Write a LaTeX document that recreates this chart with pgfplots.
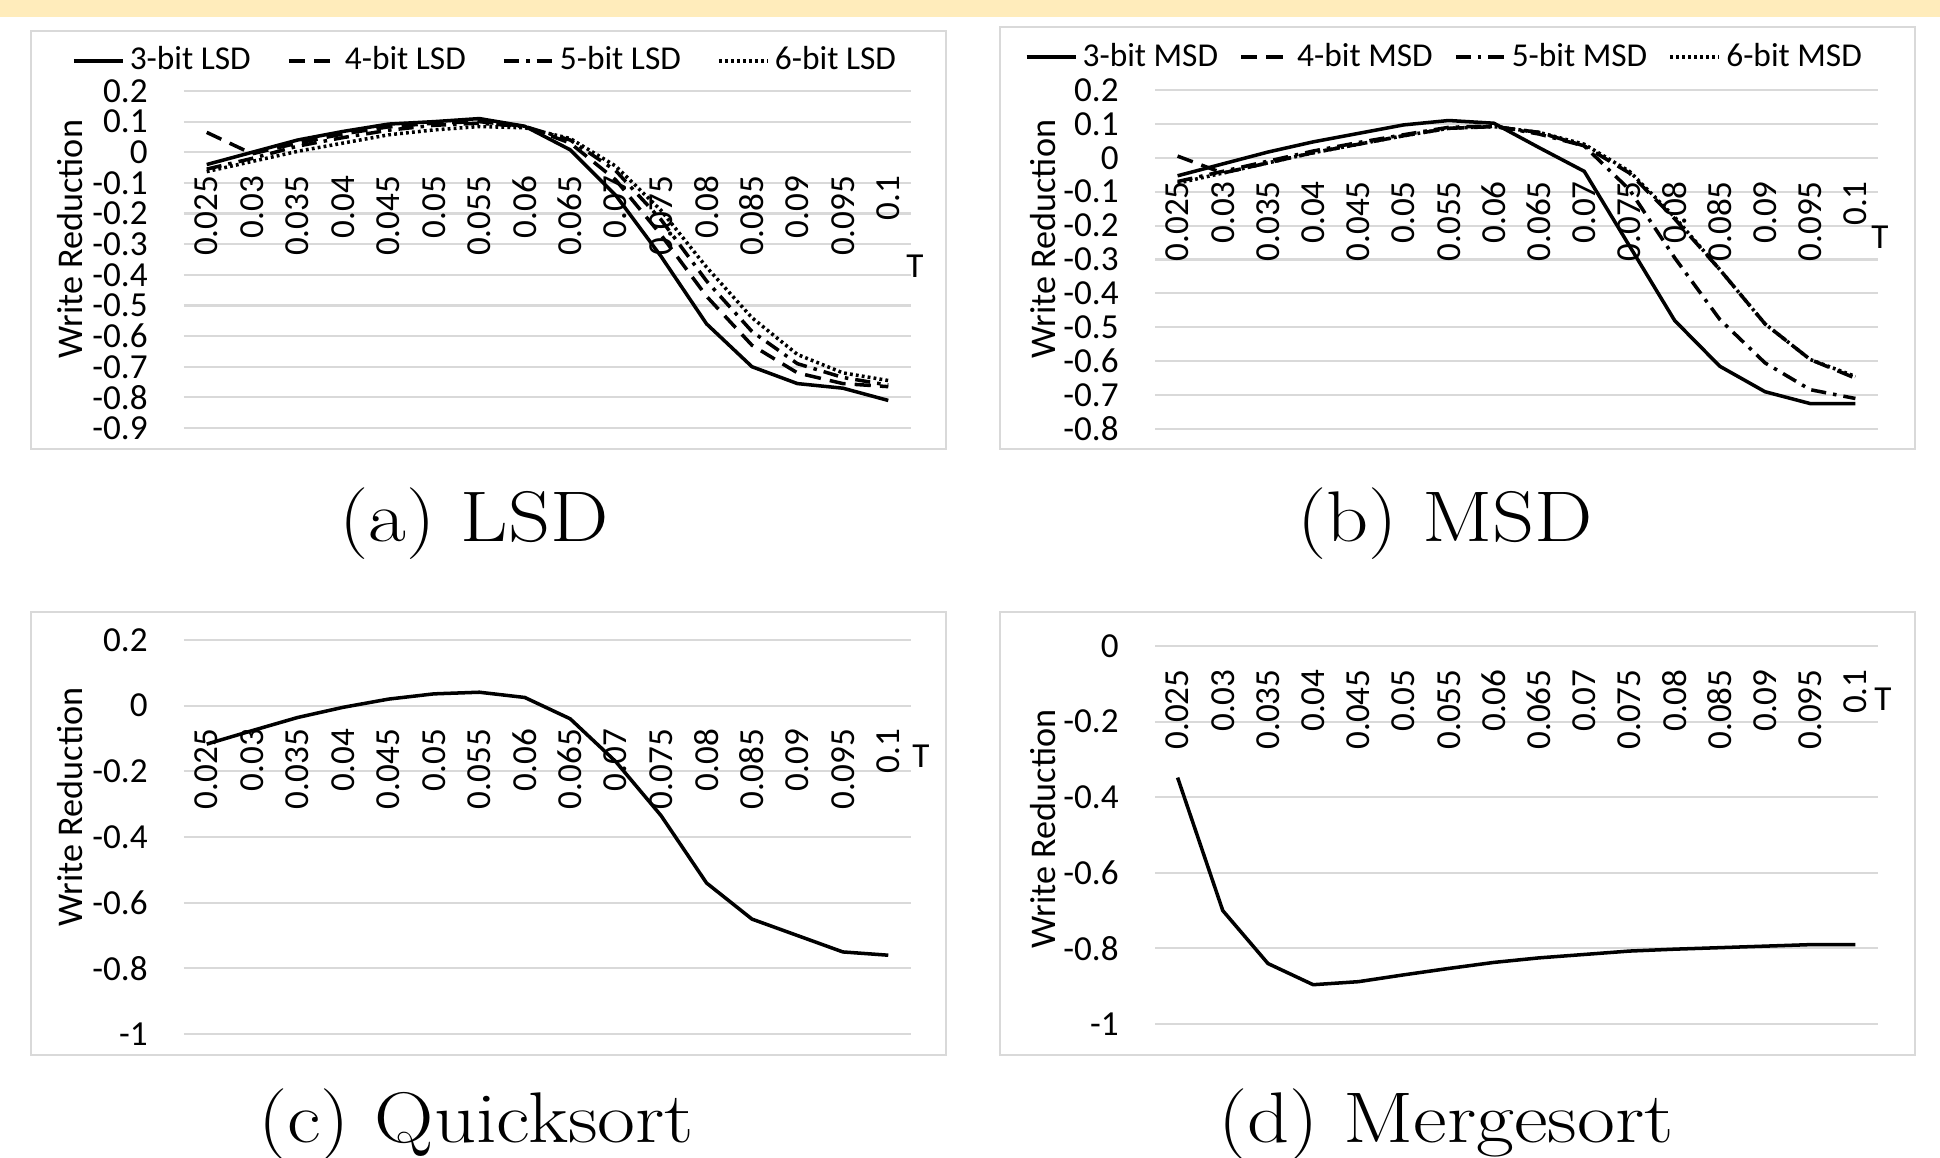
\documentclass[border=0pt]{standalone}
\usepackage{fontspec}
\usepackage{graphicx}
\usepackage{pgfplots}
\usepackage{pgfplotstable}
\pgfplotsset{compat=1.18}
\newfontfamily\calibri{Carlito}
\definecolor{band}{HTML}{FFECBB}
\definecolor{gridgray}{HTML}{D9D9D9}
\definecolor{framegray}{HTML}{D9D9D9}

% one row per threshold T (0.025 ... 0.1), i = category index
\pgfplotstableread{
i  b3      b4      b5      b6
0  -0.040  0.065   -0.055  -0.063
1  0.000   -0.005  -0.020  -0.030
2  0.040   0.030   0.020   0.003
3  0.068   0.060   0.048   0.030
4  0.092   0.083   0.072   0.057
5  0.100   0.095   0.088   0.073
6  0.110   0.100   0.095   0.084
7  0.085   0.085   0.084   0.080
8  0.008   0.030   0.040   0.045
9  -0.140  -0.090  -0.060  -0.045
10 -0.340  -0.270  -0.220  -0.190
11 -0.560  -0.470  -0.420  -0.375
12 -0.700  -0.630  -0.585  -0.540
13 -0.755  -0.720  -0.690  -0.660
14 -0.770  -0.755  -0.735  -0.720
15 -0.810  -0.765  -0.760  -0.745
}\lsd

\pgfplotstableread{
i  b3      b4      b5      b6
0  -0.053  0.005   -0.070  -0.075
1  -0.018  -0.045  -0.040  -0.045
2  0.017   -0.015  -0.010  -0.015
3  0.047   0.015   0.020   0.015
4  0.072   0.040   0.045   0.040
5  0.097   0.065   0.068   0.065
6  0.110   0.087   0.090   0.087
7  0.102   0.092   0.094   0.092
8  0.030   0.075   0.070   0.075
9  -0.040  0.035   0.035   0.040
10 -0.260  -0.045  -0.094  -0.040
11 -0.480  -0.180  -0.295  -0.175
12 -0.615  -0.330  -0.477  -0.330
13 -0.690  -0.490  -0.605  -0.490
14 -0.725  -0.595  -0.684  -0.595
15 -0.725  -0.650  -0.710  -0.645
}\msd

\pgfplotstableread{
i  quick   merge
0  -0.117  -0.348
1  -0.076  -0.700
2  -0.036  -0.840
3  -0.005  -0.896
4  0.020   -0.888
5  0.036   -0.870
6  0.041   -0.853
7  0.025   -0.837
8  -0.040  -0.825
9  -0.170  -0.816
10 -0.335  -0.807
11 -0.540  -0.802
12 -0.650  -0.798
13 -0.700  -0.794
14 -0.750  -0.790
15 -0.760  -0.790
}\sorts

\pgfplotsset{
  panel/.style={
    scale only axis,
    xmin=-0.5, xmax=15.5,
    xtick={0,...,15},
    xticklabels={0.025,0.03,0.035,0.04,0.045,0.05,0.055,0.06,0.065,0.07,0.075,0.08,0.085,0.09,0.095,0.1},
    axis x line*=middle, axis y line*=left,
    axis line style={draw=none},
    major tick length=0pt,
    hide obscured x ticks=false, hide obscured y ticks=false,
    ymajorgrids,
    grid style={draw=gridgray, line width=0.6pt},
    xticklabel style={font=\calibri\fontsize{10}{12}\selectfont, yshift=-0.11cm, rotate=90, anchor=east},
    yticklabel style={font=\calibri\fontsize{10}{12}\selectfont, xshift=-0.24cm},
    ylabel={Write Reduction},
    xlabel={T},
    every axis plot/.append style={black, line width=1pt, line join=round},
    legend columns=4,
    legend image code/.code={\draw[#1] (0cm,0cm) -- (0.49cm,0cm);},
    legend style={draw=none, fill=none, inner sep=0pt,
      font=\calibri\fontsize{9.5}{11}\selectfont,
      nodes={inner sep=1.5pt}},
  },
  ylab/.style 2 args={every axis y label/.style={at={(axis description cs:0,#2)}, xshift=-#1, rotate=90, anchor=center, font=\calibri\fontsize{10.3}{12}\selectfont}},
  tlab/.style n args={3}{every axis x label/.style={at={(axis description cs:1,#1)}, anchor=center, xshift=#2, yshift=#3, font=\calibri\fontsize{10}{12}\selectfont}},
  b3/.style={solid},
  b4/.style={dash pattern=on 4.6pt off 2.6pt},
  b5/.style={dash pattern=on 4.3pt off 2pt on 1pt off 2pt},
  b6/.style={dash pattern=on 0.8pt off 0.9pt},
}
\newcommand{\subcap}[1]{\scalebox{1.15}[1]{#1}}

\begin{document}
\begin{tikzpicture}
\useasboundingbox (0,0) rectangle (19.4,-11.57);
\clip (0,0) rectangle (19.4,-11.57);
\fill[band] (0,0) rectangle (19.4,-0.17);
\draw[framegray, line width=0.6pt] (0.31,-0.31) rectangle (9.46,-4.49);
\draw[framegray, line width=0.6pt] (10.00,-0.27) rectangle (19.15,-4.49);
\draw[framegray, line width=0.6pt] (0.31,-6.12) rectangle (9.46,-10.55);
\draw[framegray, line width=0.6pt] (10.00,-6.12) rectangle (19.15,-10.55);

% (a) LSD
\begin{axis}[panel, at={(1.84cm,-4.28cm)}, anchor=south west,
  width=7.27cm, height=3.37cm, ymin=-0.9, ymax=0.2,
  ytick={-0.9,-0.8,-0.7,-0.6,-0.5,-0.4,-0.3,-0.2,-0.1,0,0.1,0.2},
  yticklabels={-0.9,-0.8,-0.7,-0.6,-0.5,-0.4,-0.3,-0.2,-0.1,0,0.1,0.2},
  ylab={1.14cm}{0.56}, tlab={0.818}{0.04cm}{-1.14cm},
  legend style={at={(axis description cs:-0.155,1.089)}, anchor=west,
    /tikz/every even column/.append style={column sep=0.31cm}}]
\addplot[b3] table[x=i, y=b3] {\lsd};
\addplot[b4] table[x=i, y=b4] {\lsd};
\addplot[b5] table[x=i, y=b5] {\lsd};
\addplot[b6] table[x=i, y=b6] {\lsd};
\legend{3-bit LSD, 4-bit LSD, 5-bit LSD, 6-bit LSD}
\end{axis}

% (b) MSD
\begin{axis}[panel, at={(11.55cm,-4.29cm)}, anchor=south west,
  width=7.23cm, height=3.39cm, ymin=-0.8, ymax=0.2,
  ytick={-0.8,-0.7,-0.6,-0.5,-0.4,-0.3,-0.2,-0.1,0,0.1,0.2},
  yticklabels={-0.8,-0.7,-0.6,-0.5,-0.4,-0.3,-0.2,-0.1,0,0.1,0.2},
  ylab={1.12cm}{0.56}, tlab={0.8}{0.02cm}{-0.79cm},
  legend style={at={(axis description cs:-0.181,1.097)}, anchor=west,
    /tikz/every even column/.append style={column sep=0.16cm}}]
\addplot[b3] table[x=i, y=b3] {\msd};
\addplot[b4] table[x=i, y=b4] {\msd};
\addplot[b5] table[x=i, y=b5] {\msd};
\addplot[b6] table[x=i, y=b6] {\msd};
\legend{3-bit MSD, 4-bit MSD, 5-bit MSD, 6-bit MSD}
\end{axis}

% (c) Quicksort
\begin{axis}[panel, at={(1.84cm,-10.34cm)}, anchor=south west,
  width=7.27cm, height=3.94cm, ymin=-1, ymax=0.2,
  ytick={-1,-0.8,-0.6,-0.4,-0.2,0,0.2},
  yticklabels={-1,-0.8,-0.6,-0.4,-0.2,0,0.2},
  ylab={1.14cm}{0.576}, tlab={0.8333}{0.1cm}{-0.51cm}]
\addplot[b3] table[x=i, y=quick] {\sorts};
\end{axis}

% (d) Mergesort
\begin{axis}[panel, at={(11.55cm,-10.24cm)}, anchor=south west,
  width=7.23cm, height=3.78cm, ymin=-1, ymax=0,
  ytick={-1,-0.8,-0.6,-0.4,-0.2,0},
  yticklabels={-1,-0.8,-0.6,-0.4,-0.2,0},
  ylab={1.12cm}{0.516}, tlab={1}{0.05cm}{-0.53cm}]
\addplot[b3] table[x=i, y=merge] {\sorts};
\end{axis}

\node[anchor=base, font=\fontsize{20.4}{24}\selectfont] at (4.74,-5.41) {\subcap{(a) LSD}};
\node[anchor=base, font=\fontsize{20.4}{24}\selectfont] at (14.45,-5.41) {\subcap{(b) MSD}};
\node[anchor=base, font=\fontsize{20.4}{24}\selectfont] at (4.76,-11.42) {\subcap{(c) Quicksort}};
\node[anchor=base, font=\fontsize{20.4}{24}\selectfont] at (14.46,-11.42) {\subcap{(d) Mergesort}};
\end{tikzpicture}
\end{document}
